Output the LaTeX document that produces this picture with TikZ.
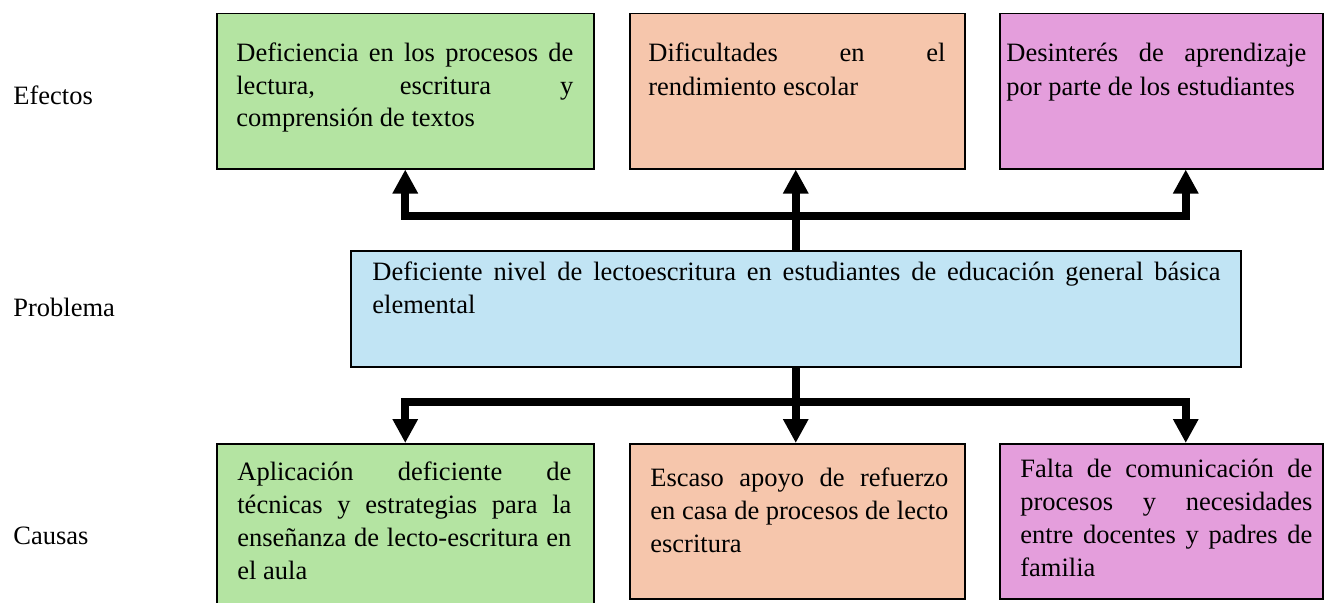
\documentclass[tikz,border=0pt]{standalone}
\usepackage{fontspec}
\setmainfont{Liberation Serif}
\usetikzlibrary{arrows.meta}

\definecolor{verde}{RGB}{180,228,162}
\definecolor{salmon}{RGB}{246,198,172}
\definecolor{lila}{RGB}{228,158,220}
\definecolor{celeste}{RGB}{193,228,244}

% justified line of a box
\newcommand{\lineaj}[1]{\makebox[\hsize][s]{#1}\\}

\tikzset{every picture/.style={line width=0.75pt}}
\tikzset{
  caja/.style={draw=black, line width=1.5pt, anchor=north west, inner sep=0pt},
  texto/.style={anchor=base west, inner sep=0pt, align=justify, font=\fontsize{26.5}{33}\selectfont},
  etiqueta/.style={anchor=base west, inner sep=0pt, font=\fontsize{26.5}{33}\selectfont},
  flecha/.style={line width=8pt, -{Triangle[length=24pt,width=24pt]}},
}

\begin{document}
\begin{tikzpicture}[x=1pt,y=1pt,yscale=-1]
	\useasboundingbox (0,0) rectangle (1324,602);

	%Shape: Rectangle [efectos]
	\node[caja, fill=verde, minimum width=377pt, minimum height=155pt] (ef1) at (216,13) {};
	\node[caja, fill=salmon, minimum width=335pt, minimum height=155pt] (ef2) at (629,13) {};
	\node[caja, fill=lila, minimum width=323pt, minimum height=155pt] (ef3) at (999,13) {};
	%Shape: Rectangle [problema]
	\node[caja, fill=celeste, minimum width=890pt, minimum height=116pt] (mid) at (350,250) {};
	%Shape: Rectangle [causas]
	\node[caja, fill=verde, minimum width=377pt, minimum height=175pt] (ca1) at (216,443) {};
	\node[caja, fill=salmon, minimum width=335pt, minimum height=155pt] (ca2) at (629,443) {};
	\node[caja, fill=lila, minimum width=323pt, minimum height=155pt] (ca3) at (999,443) {};

	%Straight Lines [arriba]
	\draw[flecha] (mid.north) -- ++(0,-34) -| (ef1.south);
	\draw[flecha] (mid.north) -- (mid.north |- ef2.south);
	\draw[flecha] (mid.north) -- ++(0,-34) -| ([xshift=24.5pt]ef3.south);
	%Straight Lines [abajo]
	\draw[flecha] (mid.south) -- ++(0,34) -| (ca1.north);
	\draw[flecha] (mid.south) -- (mid.south |- ca2.north);
	\draw[flecha] (mid.south) -- ++(0,34) -| ([xshift=24.5pt]ca3.north);

	% Text Node
	\node[etiqueta] (lbef) at (13,104) {Efectos};
	% Text Node
	\node[etiqueta] (lbpr) at (13,316) {Problema};
	% Text Node
	\node[etiqueta] (lbca) at (13,544) {Causas};

	% Text Node
	\node[texto, text width=337pt] (tef1) at (236,61) {\lineaj{Deficiencia en los procesos de}\lineaj{lectura, escritura y}comprensión de textos};
	% Text Node
	\node[texto, text width=297pt] (tef2) at (648,62) {\lineaj{Dificultades en el}rendimiento escolar};
	% Text Node
	\node[texto, text width=300pt] (tef3) at (1006,62) {\lineaj{Desinterés de aprendizaje}por parte de los estudiantes};
	% Text Node
	\node[texto, text width=848pt] (tmid) at (372,280) {\lineaj{Deficiente nivel de lectoescritura en estudiantes de educación general básica}elemental};
	% Text Node
	\node[texto, text width=334pt] (tca1) at (237,480) {\lineaj{Aplicación deficiente de}\lineaj{técnicas y estrategias para la}\lineaj{enseñanza de lecto-escritura en}el aula};
	% Text Node
	\node[texto, text width=298pt] (tca2) at (650,486) {\lineaj{Escaso apoyo de refuerzo}\lineaj{en casa de procesos de lecto}escritura};
	% Text Node
	\node[texto, text width=292pt] (tca3) at (1020,477) {\lineaj{Falta de comunicación de}\lineaj{procesos y necesidades}\lineaj{entre docentes y padres de}familia};

\end{tikzpicture}
\end{document}
